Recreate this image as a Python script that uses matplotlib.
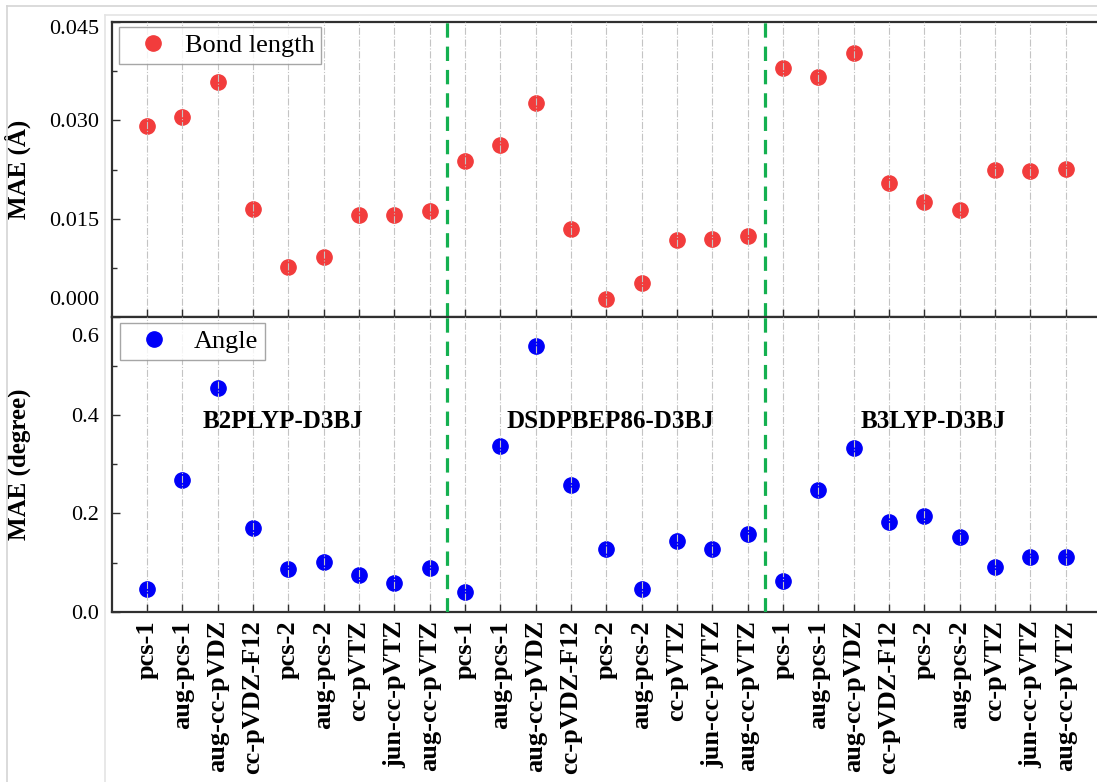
import matplotlib
matplotlib.use("Agg")
import matplotlib.pyplot as plt
from matplotlib.lines import Line2D
from matplotlib.ticker import FixedLocator, MultipleLocator, FormatStrFormatter
from matplotlib.transforms import ScaledTranslation

plt.rcParams['font.family'] = ['Liberation Serif', 'DejaVu Serif']

# ---- data ----
basis_sets = ["pcs-1", "aug-pcs-1", "aug-cc-pVDZ", "cc-pVDZ-F12", "pcs-2",
              "aug-pcs-2", "cc-pVTZ", "jun-cc-pVTZ", "aug-cc-pVTZ"]
functionals = ["B2PLYP-D3BJ", "DSDPBEP86-D3BJ", "B3LYP-D3BJ"]
categories = basis_sets * 3

bond_mae = [0.0291, 0.0305, 0.0358, 0.0164, 0.0076, 0.0091, 0.0155, 0.0156, 0.0161,
            0.0238, 0.0263, 0.0326, 0.0135, 0.0028, 0.0052, 0.0117, 0.0119, 0.0124,
            0.0380, 0.0366, 0.0402, 0.0205, 0.0175, 0.0163, 0.0224, 0.0223, 0.0226]
angle_mae = [0.046, 0.269, 0.455, 0.171, 0.086, 0.102, 0.075, 0.059, 0.089,
             0.041, 0.338, 0.540, 0.258, 0.128, 0.047, 0.144, 0.127, 0.159,
             0.063, 0.248, 0.334, 0.182, 0.195, 0.153, 0.090, 0.111, 0.111]

bond_ticks = [0.0, 0.015, 0.030, 0.045]
angle_ticks = [0.0, 0.2, 0.4, 0.6]

W, H = 1097, 782
fig = plt.figure(figsize=(W / 100, H / 100), dpi=100)

# page frame decoration
def hline(y, x0, c):
    fig.add_artist(Line2D([x0 / W, 1], [1 - y / H, 1 - y / H], transform=fig.transFigure, color=c, lw=1.2))
def vline(x, y0, c):
    fig.add_artist(Line2D([x / W, x / W], [1 - y0 / H, 0], transform=fig.transFigure, color=c, lw=1.2))
hline(6, 7, '#d4d4d4'); vline(7, 6, '#d4d4d4')
hline(15, 105, '#e4e4e4'); vline(105, 15, '#e4e4e4')

left_px, right_px = 111.6, 1101.0
top1, bot1, bot2 = 22.0, 317.0, 611.7
axL = left_px / W
axW = (right_px - left_px) / W
ax1 = fig.add_axes([axL, 1 - bot1 / H, axW, (bot1 - top1) / H])
ax2 = fig.add_axes([axL, 1 - bot2 / H, axW, (bot2 - bot1) / H], sharex=ax1)

x = list(range(len(categories)))
red = '#F23C3C'
blue = '#0000F8'
ax1.plot(x, bond_mae, 'o', color=red, ms=11, mec=red, label='Bond length', zorder=2)
ax2.plot(x, angle_mae, 'o', color=blue, ms=11, mec=blue, label='Angle', zorder=2)

green = '#14B050'
for ax in (ax1, ax2):
    ax.set_xlim(-1, len(categories))
    ax.set_axisbelow(False)
    ax.grid(axis='x', color='#c4c4c4', ls='-.', lw=0.8, zorder=2.5)
    ax.grid(axis='y', visible=False)
    for sep in (len(basis_sets) - 0.5, 2 * len(basis_sets) - 0.5):
        ax.axvline(sep, color=green, lw=2.3, ls=(0, (4.5, 2.8)), zorder=3)
    for s in ax.spines.values():
        s.set_color('#303030')
        s.set_linewidth(1.6)
    ax.spines['right'].set_visible(False)
    ax.tick_params(axis='both', which='major', direction='in', length=6, width=1.0,
                   labelsize=16, pad=9, color='#303030')
    ax.tick_params(axis='y', which='minor', direction='in', length=3.5, width=1.0, color='#303030')
    ax.tick_params(axis='x', which='minor', bottom=False)

ax1.set_ylim(0, 0.045)
ax1.yaxis.set_major_locator(FixedLocator(bond_ticks))
ax1.yaxis.set_minor_locator(MultipleLocator(0.0075))
ax1.yaxis.set_major_formatter(FormatStrFormatter('%.3f'))
ax2.set_ylim(0, 0.6)
ax2.yaxis.set_major_locator(FixedLocator(angle_ticks))
ax2.yaxis.set_minor_locator(MultipleLocator(0.1))
ax2.yaxis.set_major_formatter(FormatStrFormatter('%.1f'))

ax2.set_xticks(x)
ax2.set_xticklabels(categories, rotation=90, fontsize=19, fontweight='bold')
ax2.tick_params(axis='x', pad=6)
ax1.tick_params(axis='x', labelbottom=False)

ax1.set_ylabel('MAE (Å)', fontsize=18, fontweight='bold')
ax2.set_ylabel('MAE (degree)', fontsize=18, fontweight='bold')
ax1.yaxis.set_label_coords(-0.0815, 0.5)
ax2.yaxis.set_label_coords(-0.0815, 0.5)

for k, name in enumerate(functionals):
    cx = [3.84, 13.1, 22.26][k]
    ax2.text(cx, 0.388, name, fontsize=18, fontweight='bold', ha='center', va='center')

leg1 = ax1.legend(loc='upper left', bbox_to_anchor=(0.0075, 0.983), borderaxespad=0,
                  fontsize=19, frameon=True, fancybox=False, edgecolor='#909090',
                  borderpad=0.25, handlelength=2.1, handletextpad=0.15, numpoints=1)
leg1.get_frame().set_linewidth(1.0)
leg2 = ax2.legend(loc='upper left', bbox_to_anchor=(0.0085, 0.98), borderaxespad=0,
                  fontsize=19, frameon=True, fancybox=False, edgecolor='#909090',
                  borderpad=0.25, handlelength=2.1, handletextpad=0.45, numpoints=1)
leg2.get_frame().set_linewidth(1.0)

# shift crowded tick labels at the panel junction (as in the original)
def shift_label(ax, idx, dy_px):
    ticks = ax.yaxis.get_major_ticks()
    lab = ticks[idx].label1
    lab.set_transform(lab.get_transform() + ScaledTranslation(0, dy_px / 100, fig.dpi_scale_trans))

shift_label(ax1, 0, 19)
shift_label(ax1, 3, -5)
shift_label(ax2, 3, -18)

fig.savefig('out.png', dpi=100)
